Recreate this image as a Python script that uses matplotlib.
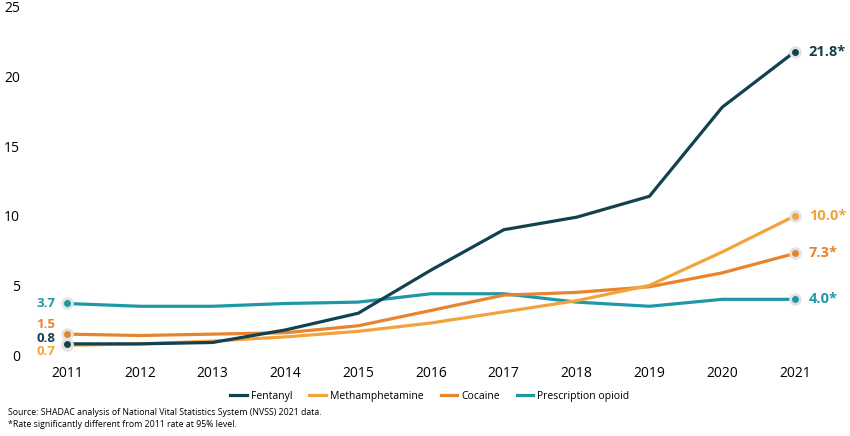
import matplotlib
matplotlib.use("Agg")
import matplotlib.pyplot as plt
from matplotlib.lines import Line2D

plt.rcParams["font.family"] = ["Open Sans", "DejaVu Sans"]

# Data
years = [2011, 2012, 2013, 2014, 2015, 2016, 2017, 2018, 2019, 2020, 2021]
fentanyl = [0.8, 0.8, 0.9, 1.8, 3.0, 6.1, 9.0, 9.9, 11.4, 17.8, 21.8]
meth = [0.7, 0.8, 1.0, 1.3, 1.7, 2.3, 3.1, 3.9, 5.0, 7.4, 10.0]
cocaine = [1.5, 1.4, 1.5, 1.6, 2.1, 3.2, 4.3, 4.5, 4.9, 5.9, 7.3]
prescription = [3.7, 3.5, 3.5, 3.7, 3.8, 4.4, 4.4, 3.8, 3.5, 4.0, 4.0]

names = ["Fentanyl", "Methamphetamine", "Cocaine", "Prescription opioid"]
colors = ["#12414f", "#f2a43c", "#e8832e", "#1f98a6"]
series = [fentanyl, meth, cocaine, prescription]

fig = plt.figure(figsize=(8.5, 4.36), dpi=100)
ax = fig.add_axes([67 / 850, 81 / 436, 728 / 850, 348 / 436])

# Draw lines (prescription first so darker sits on top)
for vals, col, name in zip(series[::-1], colors[::-1], names[::-1]):
    ax.plot(years, vals, color=col, lw=2.3, clip_on=False, zorder=3)
    ax.plot([years[0], years[-1]], [vals[0], vals[-1]], "o", color=col,
            ms=7, mec="#e3e3e3", mew=2, clip_on=False, zorder=4)

ax.set_xlim(2011, 2021)
ax.set_ylim(0, 25)
ax.set_xticks(years)
ax.set_yticks([0, 5, 10, 15, 20, 25])
ax.tick_params(axis="y", length=0, pad=34, labelsize=10)
ax.tick_params(axis="x", length=0, pad=8, labelsize=10)
for s in ax.spines.values():
    s.set_visible(False)

# Start labels (left) - stacked so they don't overlap
left_y = [1.22, 0.25, 2.2, 3.7]
for vals, col, ly in zip(series, colors, left_y):
    ax.text(2010.84, ly, "%.1f" % vals[0], color=col, fontsize=9.5,
            fontweight="bold", ha="right", va="center")

# End labels (right)
for vals, col in zip(series, colors):
    ax.text(2021.19, vals[-1], "%.1f*" % vals[-1], color=col, fontsize=10.5,
            fontweight="bold", ha="left", va="center")

# Legend
handles = [Line2D([0], [0], color=c, lw=2.3) for c in colors]
fig.legend(handles, names, loc="center", bbox_to_anchor=(430 / 850, 1 - 396 / 436),
           ncol=4, frameon=False, fontsize=7.5, handlelength=1.6,
           columnspacing=1.6, handletextpad=0.4)

# Source notes
fig.text(8 / 850, 1 - 412 / 436, "Source: SHADAC analysis of National Vital Statistics System (NVSS) 2021 data.",
         fontsize=6.3, va="center")
fig.text(8 / 850, 1 - 424 / 436, "*Rate significantly different from 2011 rate at 95% level.",
         fontsize=6.3, va="center")

fig.savefig("out.png", dpi=100)
